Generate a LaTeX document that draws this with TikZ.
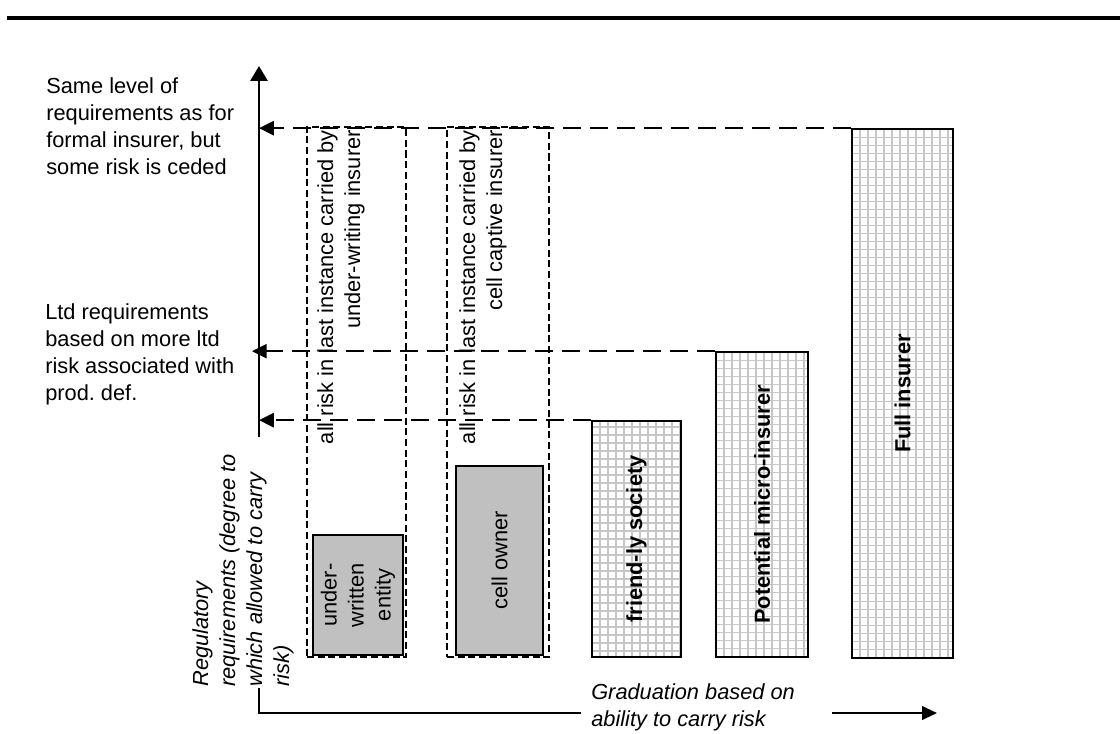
\documentclass[tikz,border=0pt]{standalone}
\usepackage{fontspec}
\setmainfont{Liberation Sans}
\usetikzlibrary{arrows.meta,fit}
\definecolor{BoxGray}{HTML}{C0C0C0}
\definecolor{GridGray}{HTML}{C6C6C6}

\begin{document}
\begin{tikzpicture}[
    x=0.025cm,y=-0.025cm,
    every node/.style={font=\fontsize{15.5}{19.2}\selectfont,inner sep=0pt},
    solidbox/.style={draw=black,line width=1.2pt,inner sep=0pt},
    hatchbox/.style={solidbox,fill=white,path picture={\draw[GridGray,line width=0.9pt] (path picture bounding box.south west) grid[step=0.2cm] (path picture bounding box.north east);}},
    graybox/.style={solidbox,fill=BoxGray},
    riskbox/.style={draw=black,line width=0.9pt,dash pattern=on 5pt off 2.6pt,inner sep=0pt},
    vtext/.style={rotate=90,align=center},
    boldtext/.style={vtext,font=\fontsize{15.5}{19.2}\selectfont\bfseries},
    slanttext/.style={font=\fontsize{15.5}{19.2}\selectfont\itshape},
    lvlarr/.style={-{Triangle[length=10.5pt,width=10pt]},line width=1.7pt,dash pattern=on 12.8pt off 6.4pt},
    axisline/.style={line width=1.9pt},
    tip/.style={-{Triangle[length=10.5pt,width=12pt]}}
  ]
    \useasboundingbox (0,0) rectangle (1120,733);
    % top rule
    \coordinate (rulel) at (7,18);
    \coordinate (ruler) at (1120,18);
    \draw[line width=2.5pt] (rulel) -- (ruler);

    % dashed areas for risk in last instance
    \node[riskbox,fit={(307,127) (406,657)}] (uwarea) {};
    \node[riskbox,fit={(447,127) (549,657)}] (cellarea) {};
    \node[vtext,align=right,anchor=north east] (uwnote) at (317,130) {all risk in last instance carried by\\under-writing insurer};
    \node[vtext,align=right,anchor=north east] (cellnote) at (459,130) {all risk in last instance carried by\\cell captive insurer};

    % entities
    \node[graybox,fit={(313,535) (403,655)}] (uwent) {};
    \node[graybox,fit={(456,466) (543,655)}] (cellown) {};
    \node[hatchbox,fit={(592,421) (681,657)}] (friendly) {};
    \node[hatchbox,fit={(716,352) (808,657)}] (potential) {};
    \node[hatchbox,fit={(852,129) (953,658)}] (full) {};
    \node[vtext] at (uwent.center) {under-\\written\\entity};
    \node[vtext] at (cellown.center) {cell owner};
    \node[boldtext] at (friendly.center) {friend-ly society};
    \node[boldtext] at (potential.center) {Potential micro-insurer};
    \node[boldtext] at (full.center) {Full insurer};

    % axes
    \coordinate (vbot) at (259,437);
    \coordinate (vtop) at (259,66);
    \draw[axisline,tip] (vbot) -- (vtop);
    \coordinate (hstart) at (259,688);
    \coordinate (hcorner) at (259,713);
    \coordinate (hgap) at (581,713);
    \coordinate (harrow) at (832,713);
    \coordinate (hend) at (937,713);
    \draw[line width=1.6pt] (hstart) -- (hcorner) -- (hgap);
    \draw[line width=1.6pt,-{Triangle[length=10.5pt,width=9.5pt]}] (harrow) -- (hend);

    % level arrows
    \draw[lvlarr] (full.north west) -- (full.north west -| vbot);
    \draw[lvlarr] (potential.north west) -- ([xshift=-5pt]potential.north west -| vbot);
    \draw[lvlarr] (friendly.north west) -- (friendly.north west -| vbot);

    % labels
    \node[align=left,anchor=north west] (samelvl) at (46,77) {Same level of\\requirements as for\\formal insurer, but\\some risk is ceded};
    \node[align=left,anchor=north west] (ltdlvl) at (45,303) {Ltd requirements\\based on more ltd\\risk associated with\\prod.\ def.};
    \node[slanttext,rotate=90,align=left,anchor=north west] (reglbl) at (192,687) {Regulatory\\requirements (degree to\\which allowed to carry\\risk)};
    \node[slanttext,align=left,anchor=north west] (gradlbl) at (591,683) {Graduation based on\\ability to carry risk};
\end{tikzpicture}
\end{document}
